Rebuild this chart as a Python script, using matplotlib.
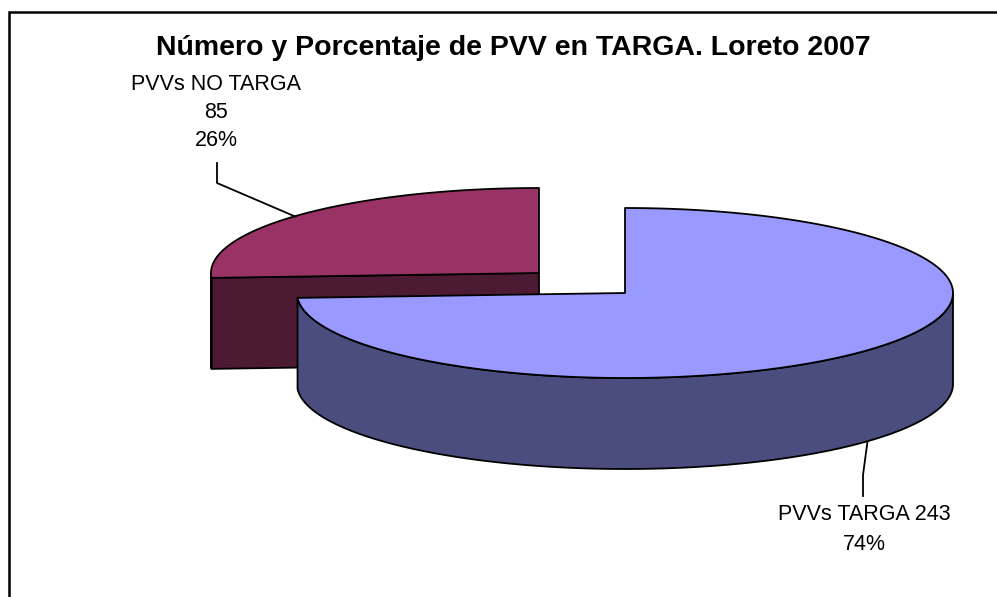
import numpy as np
import matplotlib
matplotlib.use("Agg")
import matplotlib.pyplot as plt
from matplotlib.patches import Polygon

# ---- data ----
categories = ["PVVs TARGA", "PVVs NO TARGA"]
values = [243, 85]
percent_labels = ["74%", "26%"]
title = "Número y Porcentaje de PVV en TARGA. Loreto 2007"

# ---- styles / layout ----
top_colors = ["#9999FF", "#993366"]
side_colors = ["#4B4D7E", "#4D1A33"]
centers = [(625, 293), (539, 273)]  # pixel layout of each exploded slice
A, B, DEPTH = 328, 85, 91

W, H = 997, 597
fig = plt.figure(figsize=(W / 100, H / 100), dpi=100)
ax = fig.add_axes([0, 0, 1, 1])
ax.set_xlim(0, W)
ax.set_ylim(H, 0)
ax.axis("off")

plt.rcParams["font.family"] = ["Liberation Sans", "DejaVu Sans"]

total = sum(values)
fracs = [v / total for v in values]
# angles clockwise from 12 o'clock, degrees
starts = [0.0, fracs[0] * 360]
ends = [fracs[0] * 360, 360.0]


def pt(c, th, dz=0):
    t = np.radians(th)
    return np.column_stack([c[0] + A * np.sin(t), c[1] - B * np.cos(t) + dz])


lw = 1.3
order = [1, 0]  # back slice first
for i in order:
    c = centers[i]
    s, e = starts[i], ends[i]
    # radial face at start edge (visible if facing front)
    if i == 1:
        p = pt(c, s)[0]
        quad = [(c[0], c[1]), tuple(p), (p[0], p[1] + DEPTH), (c[0], c[1] + DEPTH)]
        ax.add_patch(Polygon(quad, closed=True, facecolor=side_colors[i],
                             edgecolor="black", lw=lw, joinstyle="round"))
    # outer side
    lo, hi = max(s, 90), min(e, 270)
    if hi > lo:
        th = np.linspace(lo, hi, 200)
        top = pt(c, th)
        bot = pt(c, th[::-1], DEPTH)
        ax.add_patch(Polygon(np.vstack([top, bot]), closed=True,
                             facecolor=side_colors[i], edgecolor="black",
                             lw=lw, joinstyle="round"))
    # top face
    th = np.linspace(s, e, 400)
    arc = pt(c, th)
    poly = np.vstack([[c], arc])
    ax.add_patch(Polygon(poly, closed=True, facecolor=top_colors[i],
                         edgecolor="black", lw=lw, joinstyle="round"))

# ---- labels with leader lines ----
fs = 15.5
# NO TARGA (index 1)
mid1 = (starts[1] + ends[1]) / 2
a1 = pt(centers[1], mid1)[0]
ax.plot([a1[0] - 5, 217, 217], [a1[1] + 2, 183, 163], color="black", lw=1.3)
ax.text(216, 84, categories[1], ha="center", va="center", fontsize=fs)
ax.text(216, 112, str(values[1]), ha="center", va="center", fontsize=fs)
ax.text(216, 140, percent_labels[1], ha="center", va="center", fontsize=fs)

# TARGA (index 0)
mid0 = (starts[0] + ends[0]) / 2
a0 = pt(centers[0], mid0, DEPTH)[0]
ax.plot([a0[0] + 4, 863, 863], [a0[1] - 1, 475, 496], color="black", lw=1.3)
ax.text(864, 515, f"{categories[0]} {values[0]}", ha="center", va="center", fontsize=fs)
ax.text(864, 544, percent_labels[0], ha="center", va="center", fontsize=fs)

# ---- title ----
ax.text(513, 48, title, ha="center", va="center", fontsize=20.5, fontweight="bold")

# ---- chart border (partially visible) ----
ax.plot([9, 9, W + 5], [H + 5, 12, 12], color="black", lw=1.8, solid_joinstyle="miter")

fig.savefig("out.png", dpi=100)
